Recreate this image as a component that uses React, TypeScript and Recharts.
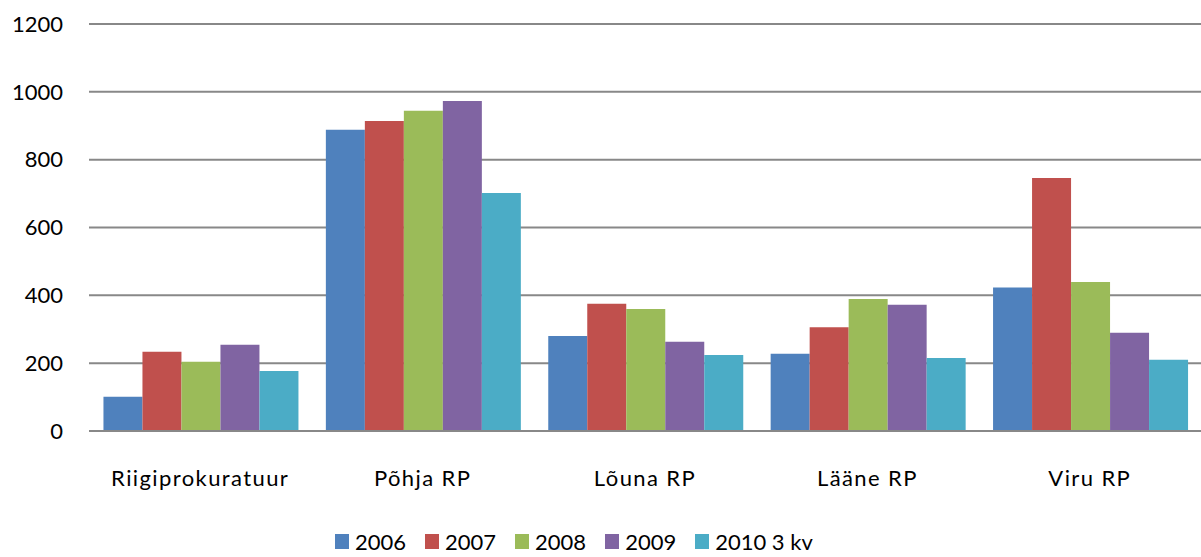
import { Bar, BarChart, CartesianGrid, Legend, XAxis, YAxis } from "recharts";

const categories = ["Riigiprokuratuur", "Põhja RP", "Lõuna RP", "Lääne RP", "Viru RP"];
const series = ["2006", "2007", "2008", "2009", "2010 3 kv"];
const colors = ["#4F81BD", "#C0504D", "#9BBB59", "#8064A2", "#4BACC6"];

const v2006 = [101, 888, 280, 228, 423];
const v2007 = [234, 914, 375, 306, 746];
const v2008 = [204, 944, 360, 389, 439];
const v2009 = [254, 973, 263, 372, 290];
const v2010 = [177, 702, 224, 215, 210];
const values = [v2006, v2007, v2008, v2009, v2010];

const yTicks = [0, 200, 400, 600, 800, 1000, 1200];

const data = categories.map((name, i) => {
  const row: Record<string, string | number> = { name };
  series.forEach((s, j) => {
    row[s] = values[j][i];
  });
  return row;
});

const FONT = "Lato, 'Noto Sans', sans-serif";

function LegendContent() {
  return (
    <div
      style={{
        display: "flex",
        alignItems: "center",
        height: 40,
        paddingLeft: 335,
        paddingTop: 8,
        boxSizing: "border-box",
        fontFamily: FONT,
        fontSize: 22,
        color: "#000",
      }}
    >
      {series.map((s, i) => (
        <div key={s} style={{ display: "flex", alignItems: "center", marginRight: 19 }}>
          <span
            style={{
              display: "inline-block",
              width: 14,
              height: 15,
              background: colors[i],
              marginRight: 6,
            }}
          />
          <span>{s}</span>
        </div>
      ))}
    </div>
  );
}

export default function App() {
  return (
    <div style={{ width: 1201, height: 557, background: "#fff" }}>
      <style>{"body{margin:0}"}</style>
      <BarChart
        width={1201}
        height={557}
        data={data}
        margin={{ top: 24, right: 0, bottom: 0, left: 0 }}
        barCategoryGap="6.5%"
        barGap={0}
      >
        <CartesianGrid vertical={false} stroke="#888888" strokeWidth={2} />
        <XAxis
          dataKey="name"
          height={86}
          tickLine={false}
          tickSize={0}
          tickMargin={39}
          axisLine={{ stroke: "#888888", strokeWidth: 2 }}
          tick={{ fontSize: 22, fill: "#000", fontFamily: FONT, letterSpacing: 1.4 }}
          interval={0}
        />
        <YAxis
          width={89}
          domain={[0, 1200]}
          ticks={yTicks}
          tickLine={false}
          tickSize={0}
          tickMargin={26}
          axisLine={false}
          tick={{ fontSize: 22, fill: "#000", fontFamily: FONT }}
        />
        <Legend
          verticalAlign="bottom"
          height={40}
          content={<LegendContent />}
          wrapperStyle={{ left: 0, width: 1201 }}
        />
        {series.map((s, i) => (
          <Bar key={s} dataKey={s} fill={colors[i]} isAnimationActive={false} />
        ))}
      </BarChart>
    </div>
  );
}
